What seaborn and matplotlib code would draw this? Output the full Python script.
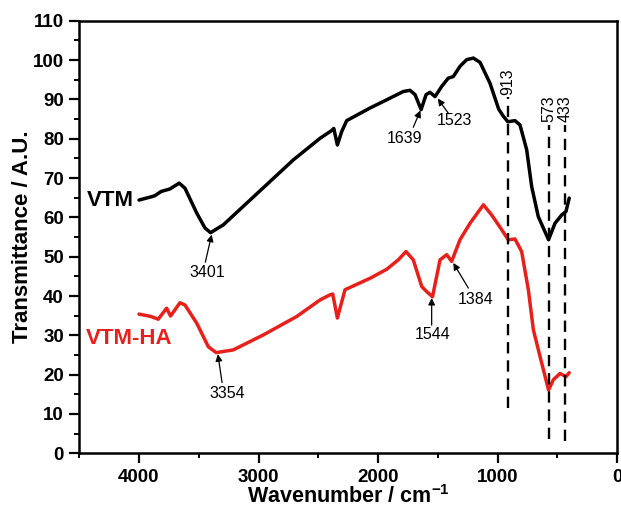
import matplotlib
matplotlib.use("Agg")
import numpy as np
import pandas as pd
import seaborn as sns
import matplotlib.pyplot as plt
from matplotlib.ticker import MultipleLocator

# ---------------- data ----------------
vtm_wn = [4000, 3900, 3868, 3813, 3743, 3663, 3615, 3517, 3448, 3401, 3294, 3099,
          2904, 2709, 2485, 2387, 2370, 2340, 2304, 2262, 2067, 1927, 1788, 1732,
          1690, 1639, 1598, 1565, 1523, 1467, 1412, 1370, 1314, 1258, 1202, 1146,
          1063, 1021, 990, 951, 913, 895, 854, 812, 756, 714, 659, 573, 519, 463,
          427, 400]
vtm_t = [64.4, 65.2, 65.5, 66.6, 67.2, 68.7, 67.4, 61.1, 57.3, 56.1, 58.1, 63.6,
         69.1, 74.6, 80.1, 82.1, 82.6, 78.4, 81.8, 84.6, 87.8, 89.9, 92.0, 92.3,
         91.2, 87.4, 91.2, 91.8, 90.7, 93.3, 95.4, 95.8, 98.4, 100.1, 100.5, 99.4,
         94.1, 90.3, 87.5, 85.7, 84.3, 84.4, 84.6, 83.5, 77.2, 67.8, 60.2, 54.3,
         58.5, 60.6, 61.5, 64.9]

ha_wn = [4000, 3900, 3839, 3769, 3736, 3657, 3615, 3517, 3420, 3354, 3211, 2960,
         2680, 2485, 2402, 2379, 2340, 2276, 2067, 1927, 1830, 1766, 1705, 1634,
         1592, 1544, 1481, 1425, 1384, 1314, 1230, 1118, 1049, 979, 910, 854, 798,
         742, 700, 644, 573, 533, 477, 427, 400]
ha_t = [35.4, 34.8, 34.1, 36.9, 34.9, 38.3, 37.7, 33.1, 27.1, 25.6, 26.3, 30.1,
        34.8, 39.0, 40.3, 40.5, 34.4, 41.6, 44.5, 46.8, 49.2, 51.3, 49.2, 42.4,
        41.1, 39.8, 49.2, 50.5, 48.8, 54.3, 58.5, 63.2, 60.6, 57.5, 54.3, 54.5,
        51.3, 41.6, 31.4, 24.6, 16.1, 18.7, 20.3, 19.5, 20.5]

series_names = ["VTM", "VTM-HA"]
series_colors = ["#000000", "#e8201c"]

dashed_wn = [913, 573, 433]
dashed_labels = ["913", "573", "433"]

peak_labels = ["3401", "3354", "1639", "1523", "1544", "1384"]

x_ticks = [4000, 3000, 2000, 1000, 0]
y_ticks = list(range(0, 111, 10))

# ---------------- figure ----------------
sns.set_theme(style="ticks")
plt.rcParams["font.family"] = ["Liberation Sans", "DejaVu Sans"]
plt.rcParams["mathtext.fontset"] = "custom"
plt.rcParams["mathtext.rm"] = "Liberation Sans"
plt.rcParams["mathtext.bf"] = "Liberation Sans:bold"

fig = plt.figure(figsize=(6.21, 5.09), dpi=100)
ax = fig.add_axes([0.1276, 0.1094, 0.866, 0.8499])

df = pd.concat([
    pd.DataFrame({"wn": vtm_wn, "T": vtm_t, "sample": series_names[0]}),
    pd.DataFrame({"wn": ha_wn, "T": ha_t, "sample": series_names[1]}),
])
sns.lineplot(data=df, x="wn", y="T", hue="sample",
             palette=dict(zip(series_names, series_colors)),
             sort=False, estimator=None, legend=False, lw=2.5, ax=ax,
             solid_joinstyle="round", solid_capstyle="round")

ax.set_xlim(4500, 0)
ax.set_ylim(0, 110)
ax.set_xticks(x_ticks)
ax.set_yticks(y_ticks)
ax.xaxis.set_minor_locator(MultipleLocator(500))
ax.yaxis.set_minor_locator(MultipleLocator(5))
ax.tick_params(which="major", direction="out", length=7, width=1.6,
               labelsize=13.5, pad=4, color="black", labelcolor="black")
ax.tick_params(which="minor", direction="out", length=3.5, width=1.4, color="black")
for lbl in ax.get_xticklabels() + ax.get_yticklabels():
    lbl.set_fontweight("bold")
for sp in ax.spines.values():
    sp.set_visible(True)
    sp.set_linewidth(1.8)
    sp.set_color("black")

ax.set_xlabel(r"Wavenumber / cm$^{\mathbf{-1}}$", fontsize=15.5, fontweight="bold",
              labelpad=0, color="black")
ax.set_ylabel("Transmittance / A.U.", fontsize=16, fontweight="bold",
              labelpad=0, color="black")

# series labels
ax.text(4435, 64.3, series_names[0], fontsize=16, fontweight="bold",
        color=series_colors[0], ha="left", va="center")
ax.text(4444, 29.1, series_names[1], fontsize=16, fontweight="bold",
        color=series_colors[1], ha="left", va="center")

# dashed reference lines
dash_ranges = [(11.5, 90.6), (3.7, 83.6), (3.2, 83.6)]
for wn, lab, (y0, y1) in zip(dashed_wn, dashed_labels, dash_ranges):
    ax.plot([wn, wn], [y0, y1], color="black", lw=1.7, ls=(0, (4.8, 2.9)))
    ax.text(wn, y1 + 0.6, lab, rotation=90, ha="center", va="bottom",
            fontsize=11.5, color="black")

# peak annotations: (label, text pos, arrow tail, arrow head)
ann = [
    (peak_labels[0], (3431, 46.1), (3445, 48.6), (3392, 55.6)),
    (peak_labels[1], (3259, 15.1), (3305, 18.0), (3340, 25.2)),
    (peak_labels[2], (1782, 80.1), (1705, 82.9), (1645, 87.2)),
    (peak_labels[3], (1364, 84.6), (1412, 86.5), (1500, 90.2)),
    (peak_labels[4], (1544, 30.1), (1551, 32.6), (1551, 39.5)),
    (peak_labels[5], (1180, 39.0), (1244, 42.0), (1370, 48.4)),
]
for lab, tpos, tail, head in ann:
    ax.text(tpos[0], tpos[1], lab, fontsize=11.5, ha="center", va="center",
            color="black")
    ax.annotate("", xy=head, xytext=tail,
                arrowprops=dict(arrowstyle="-|>", lw=0.9, color="black",
                                mutation_scale=10, shrinkA=0, shrinkB=0))

fig.savefig("out.png", dpi=100)
